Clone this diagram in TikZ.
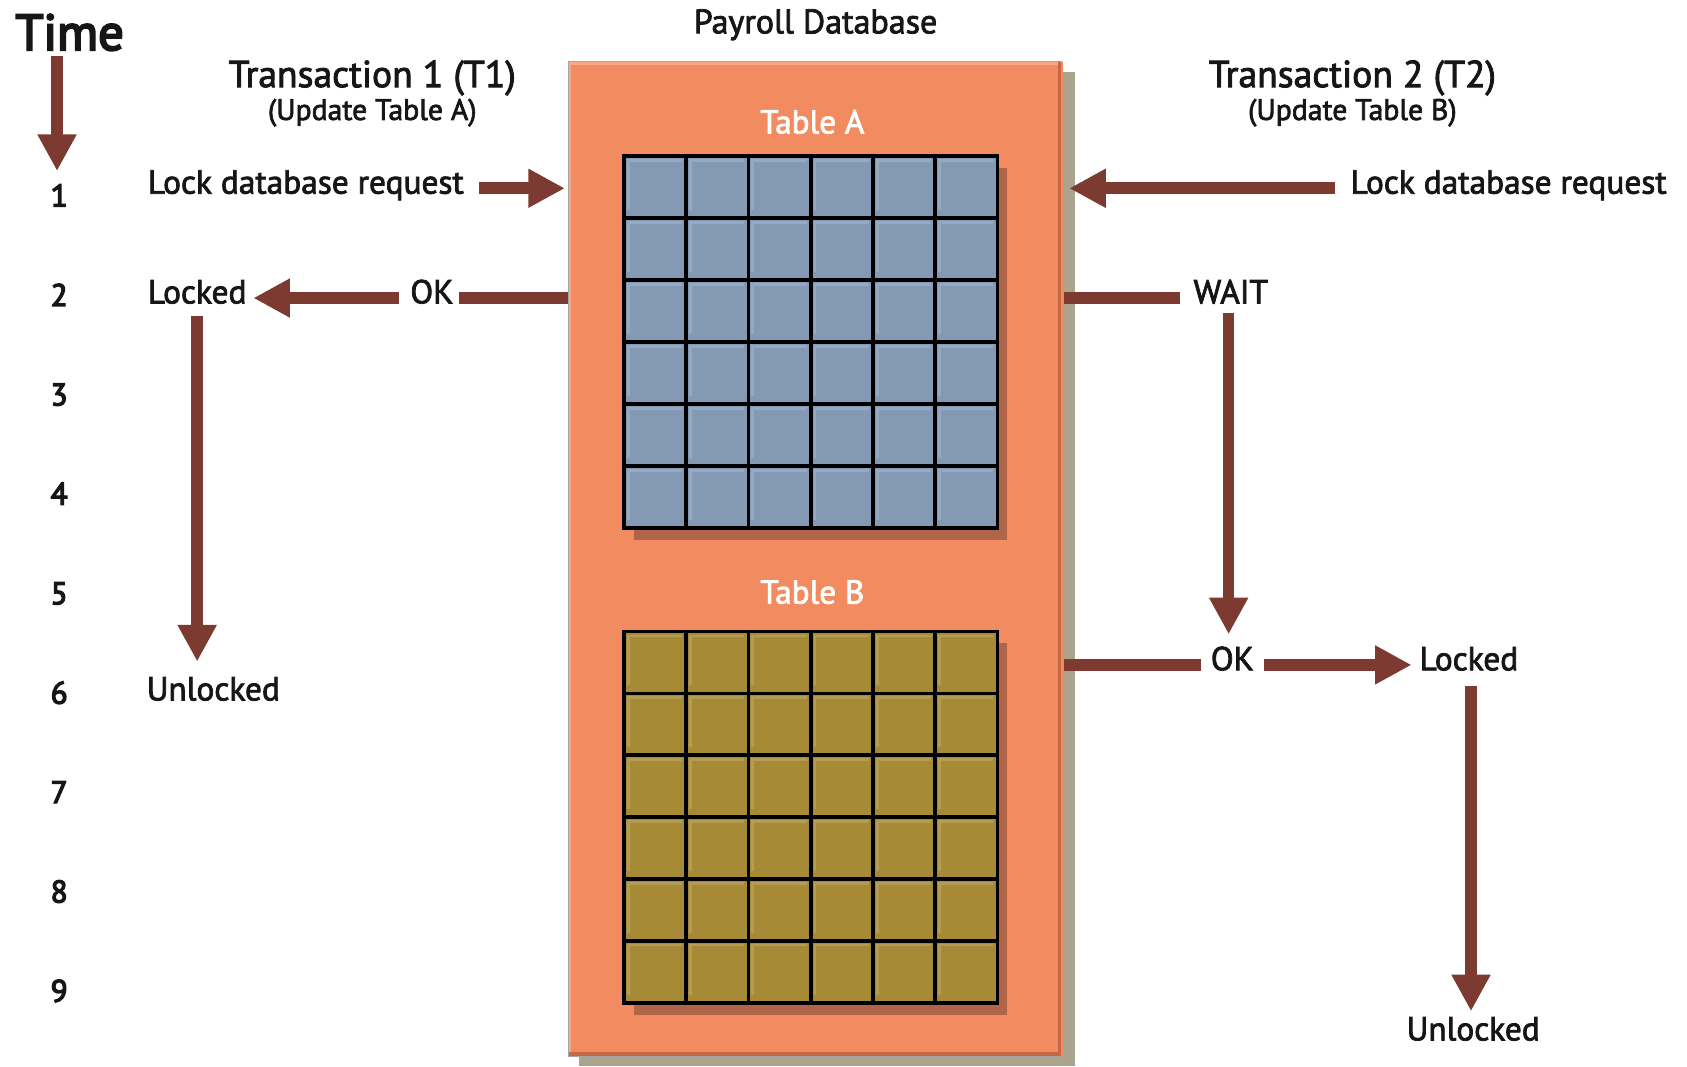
\documentclass[tikz,border=0pt]{standalone}
\usepackage{fontspec}
\setmainfont{PT Sans}[RawFeature={embolden=2.3}]
\newfontfamily\heavyfont{PT Sans}[RawFeature={embolden=4.2}]
\usetikzlibrary{arrows.meta,calc}

\definecolor{arrowred}{RGB}{124,58,48}
\definecolor{dborange}{RGB}{243,139,97}
\definecolor{dbedge}{RGB}{196,104,72}
\definecolor{dblight}{RGB}{248,168,130}
\definecolor{dbshadow}{RGB}{170,163,141}
\definecolor{cellblue}{RGB}{131,153,180}
\definecolor{cellolive}{RGB}{166,138,53}
\definecolor{gridshadow}{RGB}{176,100,72}
\definecolor{txt}{RGB}{22,22,22}

\tikzset{
  lbl/.style={inner sep=0pt, anchor=base west, text=txt, font=\fontsize{15.5}{18}\selectfont},
  num/.style={inner sep=0pt, anchor=base, text=txt, font=\heavyfont\fontsize{14.5}{17}\selectfont},
  ttl/.style={inner sep=0pt, anchor=base, text=txt, font=\fontsize{17.5}{21}\selectfont},
  subttl/.style={inner sep=0pt, anchor=base, text=txt, font=\fontsize{13.8}{16}\selectfont},
  tbl/.style={inner sep=0pt, anchor=base, text=white, font=\fontsize{15.4}{18}\selectfont},
  arr/.style={draw=arrowred, line width=5.4pt, -{Triangle[length=17pt,width=17pt]}},
  bar/.style={draw=arrowred, line width=5.4pt},
  gridline/.style={draw=black, line width=1.7pt},
  cellshine/.style={draw=white, draw opacity=0.16, line width=1.2pt},
}

\begin{document}
\begin{tikzpicture}[x=0.5pt,y=-0.5pt]
\useasboundingbox (0,0) rectangle (1568,991);

% ---- database box with drop shadow and bevelled rim ----
\fill[dbshadow] (538,67) rectangle (999,991);
\node[draw=none, fill=dborange, minimum width=230pt, minimum height=462.5pt,
      inner sep=0pt, anchor=north west] (db) at (528,57) {};
\fill[dblight] (528,57) rectangle (987,60);
\fill[dblight] (528,57) rectangle (531,982);
\fill[dbedge] (528,978) rectangle (987,982);
\fill[dbedge] (983,57) rectangle (987,982);
\draw[gray!70, line width=0.4pt] (528,57) rectangle (987,982);

% ---- table A grid ----
\fill[gridshadow] (589,156) rectangle (936,502);
\fill[cellblue] (580,145) rectangle (927,491);
\foreach \r in {0,...,5} \foreach \c in {0,...,5} {
  \draw[cellshine] ({580+\c*57.833+4},{145+\r*57.667+50}) -- ({580+\c*57.833+4},{145+\r*57.667+4}) -- ({580+\c*57.833+54},{145+\r*57.667+4});
}
\foreach \i in {0,...,6} {
  \draw[gridline] ({580+\i*57.833},145) -- ({580+\i*57.833},491);
  \draw[gridline] (580,{145+\i*57.667}) -- (927,{145+\i*57.667});
}
\draw[gridline, line join=miter] (580,145) rectangle (927,491);

% ---- table B grid ----
\fill[gridshadow] (589,598) rectangle (936,943);
\fill[cellolive] (580,587) rectangle (927,932);
\foreach \r in {0,...,5} \foreach \c in {0,...,5} {
  \draw[cellshine] ({580+\c*57.833+4},{587+\r*57.5+50}) -- ({580+\c*57.833+4},{587+\r*57.5+4}) -- ({580+\c*57.833+54},{587+\r*57.5+4});
}
\foreach \i in {0,...,6} {
  \draw[gridline] ({580+\i*57.833},587) -- ({580+\i*57.833},932);
  \draw[gridline] (580,{587+\i*57.5}) -- (927,{587+\i*57.5});
}
\draw[gridline, line join=miter] (580,587) rectangle (927,932);

% ---- titles ----
\node[inner sep=0pt, anchor=base west, text=txt, font=\heavyfont\fontsize{23.5}{28}\selectfont] (time) at (14,46.5) {Time};
\node[inner sep=0pt, anchor=base, text=txt, font=\fontsize{15.8}{19}\selectfont] (payroll) at (758,31) {Payroll Database};
\node[ttl] (t1) at (346,81) {Transaction 1 (T1)};
\node[subttl] (t1sub) at (346,111.5) {(Update Table A)};
\node[ttl] (t2) at (1257,81) {Transaction 2 (T2)};
\node[subttl] (t2sub) at (1257,111.5) {(Update Table B)};
\node[tbl] (tabA) at (755,124) {Table A};
\node[tbl] (tabB) at (755,561) {Table B};

% ---- time steps ----
\foreach \k in {1,...,9} {
  \node[num] (n\k) at (55,{192+(\k-1)*92.4}) {\k};
}
\draw[arr] ($(time.south -| n1.north)+(-2,5)$) -- ($(n1.north)+(-2,-12)$);

% ---- transaction 1 ----
\node[lbl] (req1) at (137,180) {Lock database request};
\node[lbl] (locked1) at (137,282) {Locked};
\node[lbl] (ok1) at (381,282) {OK};
\node[lbl] (unlocked1) at (136,651) {Unlocked};

\draw[arr] ($(req1.mid east)+(14,0)$) -- ($(req1.mid east -| db.west)+(-3,0)$);
\draw[bar] (ok1.mid -| db.west) -- ($(ok1.mid east)+(5,0)$);
\draw[arr] ($(ok1.mid west)+(-10,0)$) -- ($(locked1.mid east)+(6,0)$);
\draw[arr] ($(locked1.south)+(0,11)$) -- ($(locked1.south |- unlocked1.north)+(0,-14)$);

% ---- transaction 2 ----
\node[lbl] (req2) at (1255,180) {Lock database request};
\node[lbl] (wait) at (1109,282) {WAIT};
\node[lbl] (ok2) at (1125,623) {OK};
\node[lbl] (locked2) at (1319,623) {Locked};
\node[lbl] (unlocked2) at (1307,967) {Unlocked};

\draw[arr] ($(req2.mid west)+(-14,0)$) -- ($(req2.mid west -| db.east)+(5,0)$);
\draw[bar] (wait.mid -| db.east) -- ($(wait.mid west)+(-12,0)$);
\draw[arr] ($(wait.south)+(-2,8)$) -- ($(wait.south |- ok2.north)+(-2,-11)$);
\draw[bar] (ok2.mid -| db.east) -- ($(ok2.mid west)+(-9,0)$);
\draw[arr] ($(ok2.mid east)+(9,0)$) -- ($(locked2.mid west)+(-7,0)$);
\draw[arr] ($(locked2.south)+(2,14)$) -- ($(locked2.south |- unlocked2.north)+(2,-5)$);
\end{tikzpicture}
\end{document}
